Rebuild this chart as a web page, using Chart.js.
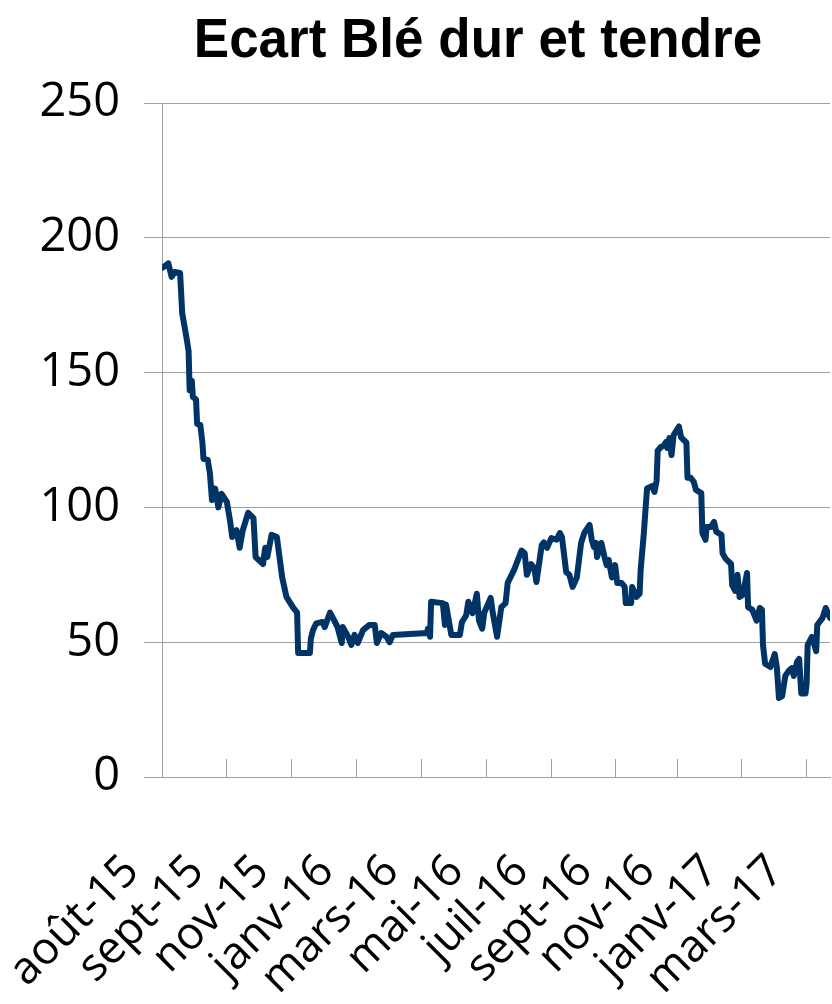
<!DOCTYPE html>
<html lang="fr">
<head>
<meta charset="utf-8">
<title>Ecart Blé dur et tendre</title>
<script src="https://cdn.jsdelivr.net/npm/chart.js@4/dist/chart.umd.min.js"></script>
<style>
  html, body { margin: 0; padding: 0; background: #ffffff; overflow: hidden; }
  #wrap { position: relative; width: 832px; height: 1004px; }
  #title {
    position: absolute; left: 128px; top: 12px; width: 700px;
    text-align: center; white-space: nowrap;
    font-family: "Liberation Sans", Arial, sans-serif; font-weight: bold;
    font-size: 53px; line-height: 1; color: #000000;
    transform: scaleY(1.06); transform-origin: 50% 100%;
  }
  canvas { position: absolute; left: 0; top: 0; }
</style>
</head>
<body>
<div id="wrap">
  <canvas id="c" width="832" height="1004"></canvas>
  <div id="title">Ecart Blé dur et tendre</div>
</div>
<script>
// Tick labels on the date axis (days counted from the first tick)
const tickDays = [0, 61, 122, 183, 244, 305, 366, 426, 485, 545, 606];
const tickLabels = ['août-15', 'sept-15', 'nov-15', 'janv-16', 'mars-16', 'mai-16',
                    'juil-16', 'sept-16', 'nov-16', 'janv-17', 'mars-17'];
const yTicks = [0, 50, 100, 150, 200, 250];

// Series: spread durum / soft wheat (day offset, value)
const days = [1, 6, 9, 12, 17, 19, 23, 25, 26, 28, 29, 32, 33, 36, 38, 39, 43, 45, 47, 50,
  53, 56, 61, 64, 66, 70, 73, 76, 81, 86, 88, 95, 97, 99, 103, 108, 113, 117, 123, 127,
  128, 139, 140, 142, 145, 151, 153, 158, 162, 165, 169, 170, 175, 178, 181, 184, 189, 195, 200, 202,
  206, 211, 214, 217, 249, 250, 252, 253, 264, 266, 267, 272, 280, 282, 286, 288, 292, 296, 298, 301,
  303, 309, 311, 315, 319, 323, 325, 331, 338, 341, 343, 347, 350, 352, 355, 357, 359, 362, 366, 371,
  374, 376, 380, 383, 386, 390, 394, 397, 402, 404, 406, 408, 409, 413, 416, 418, 420, 423, 426, 428,
  432, 435, 436, 441, 442, 446, 449, 450, 453, 455, 456, 461, 463, 465, 466, 469, 472, 474, 475, 477,
  479, 481, 486, 488, 493, 494, 497, 500, 502, 507, 508, 511, 512, 516, 519, 521, 526, 527, 530, 535,
  536, 539, 541, 543, 546, 550, 551, 555, 559, 562, 564, 565, 567, 572, 576, 578, 580, 583, 586, 589,
  592, 594, 597, 599, 601, 605, 606, 607, 611, 615, 616, 621, 624, 628];
const ecart = [189, 190.5, 185.5, 187.3, 187, 172, 163, 158, 143.5, 147, 141, 140, 131, 130.6, 124, 118, 117.6, 112.8, 102.7, 107,
  100, 105, 102, 95, 89, 91.6, 85, 91.6, 98, 96, 81.6, 79, 85, 81.6, 89.8, 89, 74, 66.8, 63, 61,
  46, 46, 51.5, 54.5, 57, 57.5, 55.6, 61, 58, 55.6, 49.7, 55.6, 52, 49, 52.7, 49.7, 54.5, 56.4, 56.4, 49.7,
  53.4, 52, 50, 52.7, 53.4, 55, 52, 65, 64.5, 56.4, 64, 52.7, 52.7, 57.5, 60, 65, 60.8, 68, 58, 55,
  61, 66.4, 60.8, 52, 63, 64.5, 72, 76.8, 84, 83, 75, 79, 77.5, 72.3, 80.5, 86, 87, 85, 88.6, 88,
  90.5, 89, 76, 75, 70.5, 74, 86.8, 90.5, 93.5, 88, 85.3, 86.8, 81.6, 86.8, 81.6, 78.6, 80.5, 74, 78.6, 72,
  72, 70.5, 64.5, 64.5, 70.5, 66.8, 68, 76.8, 90.5, 101.6, 107, 108, 105.7, 110, 121, 122.4, 123, 124.3, 122, 125.7,
  119.4, 126.8, 130, 126, 124, 111, 111, 109.4, 106.5, 105.3, 90.5, 88, 92.7, 92.7, 94.6, 91, 89.8, 83, 80.9, 79,
  71.2, 69, 75, 66.8, 67.5, 75.7, 63, 62, 58, 62.7, 62, 49, 42, 40.8, 45.6, 40.8, 29.3, 30, 37.5, 39.3,
  40.4, 37.5, 42.7, 43.8, 31, 31, 34.5, 49, 52, 46.7, 56.4, 59, 62.7, 59];

const points = days.map((d, i) => ({ x: d, y: ecart[i] }));
const gridGrey = '#a0a0a0';

new Chart(document.getElementById('c').getContext('2d'), {
  type: 'line',
  data: {
    datasets: [{
      label: 'Ecart Blé dur et tendre',
      data: points,
      borderColor: '#003366',
      backgroundColor: '#003366',
      borderWidth: 6,
      pointRadius: 0,
      tension: 0,
      borderJoinStyle: 'round',
      borderCapStyle: 'round',
      fill: false
    }]
  },
  options: {
    responsive: false,
    animation: false,
    devicePixelRatio: 1,
    layout: { padding: { top: 103, left: 0, right: 2, bottom: 0 } },
    plugins: {
      legend: { display: false },
      tooltip: { enabled: false },
      title: { display: false }
    },
    scales: {
      x: {
        type: 'linear',
        min: 0,
        max: 628,
        afterBuildTicks: s => { s.ticks = tickDays.map(v => ({ value: v })); },
        afterFit: s => { s.height = 227; s.paddingLeft = 0; s.paddingRight = 0; },
        grid: { drawOnChartArea: false, drawTicks: true, tickLength: -18, color: gridGrey, lineWidth: 1 },
        border: { display: true, color: gridGrey, width: 1 },
        ticks: {
          autoSkip: false,
          minRotation: 45,
          maxRotation: 45,
          padding: 86,
          labelOffset: -30,
          color: '#000000',
          font: { family: 'Open Sans', size: 45 },
          callback: v => { const i = tickDays.indexOf(v); return i >= 0 ? tickLabels[i] : null; }
        }
      },
      y: {
        min: 0,
        max: 250,
        afterBuildTicks: s => { s.ticks = yTicks.map(v => ({ value: v })); },
        afterFit: s => { s.width = 162; },
        grid: { color: gridGrey, lineWidth: 1, tickLength: 18 },
        border: { display: true, color: gridGrey, width: 1 },
        ticks: {
          padding: 24,
          color: '#000000',
          font: { family: 'Open Sans', size: 47 }
        }
      }
    }
  }
});
</script>
</body>
</html>
